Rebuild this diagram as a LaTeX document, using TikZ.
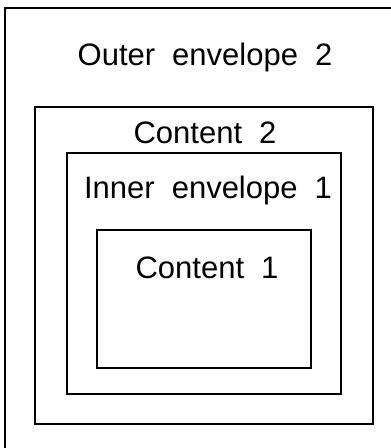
\documentclass[tikz,border=0pt]{standalone}
\usepackage{fontspec}
\setmainfont{Liberation Sans}
\usetikzlibrary{positioning}
\newcommand{\capfont}{\fontsize{31}{37}\selectfont\spaceskip=0.55em\relax}

\begin{document}
\begin{tikzpicture}[
  x=1pt,y=-1pt,
  wrap/.style={draw=black,line width=1.8pt,inner sep=0pt},
  caption/.style={anchor=base,inner sep=0pt,font=\capfont}
]
\useasboundingbox (0,0) rectangle (391,448);
\clip (0,0) rectangle (391,448);
% outermost envelope, running off the page
\draw[line width=1.8pt] (5,460) -- (5,8) -- (400,8);
\node[caption] (outer) at (205,65) {Outer envelope 2};
% nested boxes
\node[wrap,minimum width=338pt,minimum height=317pt] (content2) at (204,265.5) {};
\node[caption] (lbl2) at (205,143) {Content 2};
\node[wrap,minimum width=274pt,minimum height=241pt] (inner) at (204,273.5) {};
\node[caption] (lbl1) at (208,198) {Inner envelope 1};
\node[wrap,minimum width=214pt,minimum height=138pt] (content1) at (204,299) {};
\node[caption] (lbl0) at (207,278) {Content 1};
\end{tikzpicture}
\end{document}
